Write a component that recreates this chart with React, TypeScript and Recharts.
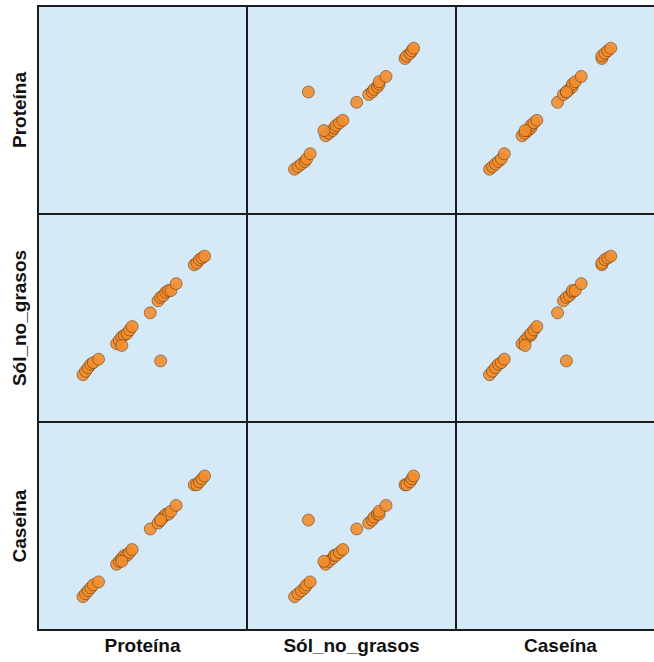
import { Scatter, ScatterChart, XAxis, YAxis } from "recharts";

// one value per sample, same order in every array
const proteina = [
  3.07, 3.08, 3.09, 3.1, 3.11, 3.13,
  3.2, 3.21, 3.22, 3.23, 3.24, 3.25, 3.26, 3.22,
  3.33,
  3.36, 3.37, 3.38, 3.39, 3.4, 3.41, 3.43,
  3.37,
  3.5, 3.51, 3.52, 3.53, 3.54,
];
const solNoGrasos = [
  8.27, 8.29, 8.31, 8.33, 8.34, 8.36,
  8.45, 8.47, 8.49, 8.5, 8.51, 8.53, 8.55, 8.44,
  8.63,
  8.7, 8.72, 8.73, 8.75, 8.76, 8.76, 8.8,
  8.35,
  8.91, 8.92, 8.94, 8.95, 8.96,
];
const caseina = [
  2.31, 2.32, 2.33, 2.34, 2.35, 2.36,
  2.42, 2.43, 2.44, 2.45, 2.45, 2.46, 2.47, 2.43,
  2.54,
  2.56, 2.57, 2.58, 2.59, 2.59, 2.6, 2.62,
  2.57,
  2.69, 2.69, 2.7, 2.71, 2.72,
];

const varNames = ["Proteína", "Sól_no_grasos", "Caseína"];
const series = [proteina, solNoGrasos, caseina];
const domains: [number, number][] = [
  [2.9, 3.7],
  [8.0, 9.2],
  [2.2, 2.9],
];

const colLeft = [37, 246, 455];
const rowTop = [5, 213, 421];
const CELL_W = 211;
const CELL_H = 210;
const BG = "#d6e9f7";
const FONT = "'Liberation Sans', Arial, sans-serif";

const Dot = (props: any) => {
  const { cx, cy } = props;
  if (cx == null || cy == null) return null;
  return (
    <circle
      cx={cx}
      cy={cy}
      r={6}
      fill="#f28d2e"
      fillOpacity={0.9}
      stroke="#5a3410"
      strokeOpacity={0.6}
      strokeWidth={0.9}
    />
  );
};

function Cell({ row, col }: { row: number; col: number }) {
  const data = series[col].map((x, i) => ({ x, y: series[row][i] }));
  return (
    <div
      style={{
        position: "absolute",
        left: colLeft[col],
        top: rowTop[row],
        width: CELL_W,
        height: CELL_H,
        boxSizing: "border-box",
        border: "2px solid #1c1c1c",
        background: BG,
      }}
    >
      {row !== col && (
        <ScatterChart width={CELL_W - 4} height={CELL_H - 4} margin={{ top: 0, right: 0, bottom: 0, left: 0 }}>
          <XAxis type="number" dataKey="x" domain={domains[col]} hide allowDataOverflow />
          <YAxis type="number" dataKey="y" domain={domains[row]} hide allowDataOverflow />
          <Scatter data={data} shape={Dot} isAnimationActive={false} />
        </ScatterChart>
      )}
    </div>
  );
}

export default function App() {
  return (
    <div
      style={{
        position: "fixed",
        left: 0,
        top: 0,
        width: 654,
        height: 662,
        overflow: "hidden",
        background: "#fff",
        fontFamily: FONT,
      }}
    >
      {[0, 1, 2].map((r) => [0, 1, 2].map((c) => <Cell key={`${r}-${c}`} row={r} col={c} />))}
      {varNames.map((name, i) => (
        <div
          key={`col-${name}`}
          style={{
            position: "absolute",
            left: colLeft[i],
            top: 635,
            width: CELL_W,
            textAlign: "center",
            fontSize: 19,
            fontWeight: "bold",
            color: "#111",
          }}
        >
          {name}
        </div>
      ))}
      {varNames.map((name, i) => (
        <div
          key={`row-${name}`}
          style={{
            position: "absolute",
            left: 20,
            top: rowTop[i] + CELL_H / 2,
            transform: "translate(-50%, -50%) rotate(-90deg)",
            whiteSpace: "nowrap",
            fontSize: 19,
            fontWeight: "bold",
            color: "#111",
          }}
        >
          {name}
        </div>
      ))}
    </div>
  );
}
